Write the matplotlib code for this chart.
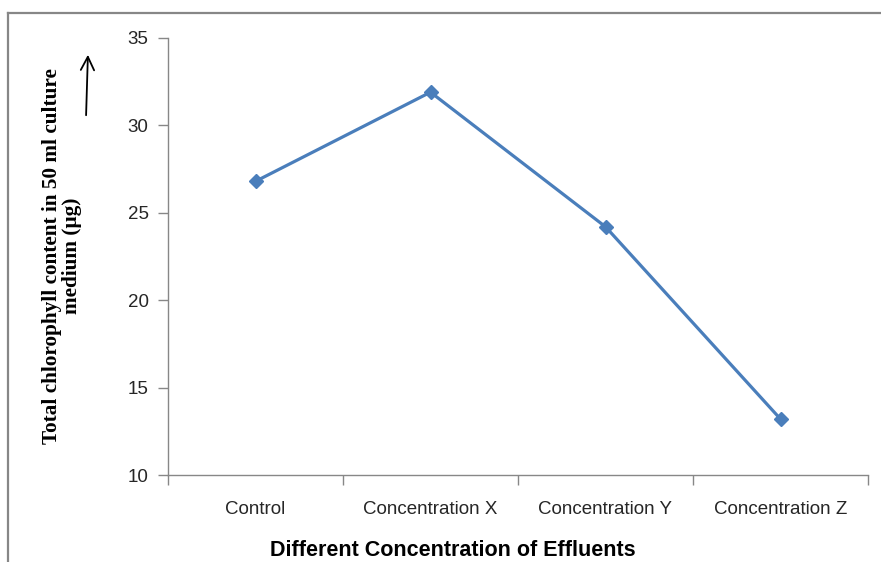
import matplotlib.pyplot as plt
from matplotlib.lines import Line2D
from matplotlib.patches import FancyArrowPatch

categories = ['Control', 'Concentration X', 'Concentration Y', 'Concentration Z']
chlorophyll = [26.8, 31.9, 24.2, 13.2]
y_ticks = [10, 15, 20, 25, 30, 35]

fig = plt.figure(figsize=(8.81, 5.62), dpi=100)
ax = fig.add_axes([168 / 881, 1 - 475 / 562, 700 / 881, 437 / 562])

x = list(range(len(categories)))
ax.plot(x, chlorophyll, color='#4a7ebb', linewidth=2.3, marker='D',
        markersize=7, markerfacecolor='#4a7ebb', markeredgecolor='#4a7ebb')

ax.set_xlim(-0.5, len(categories) - 0.5)
ax.set_ylim(10, 35)
ax.set_yticks(y_ticks)
ax.tick_params(axis='y', length=7, width=1, color='#878787', labelsize=13.5,
               labelcolor='#262626', pad=7)
ax.set_yticklabels([str(v) for v in y_ticks], family='Liberation Sans')

# category labels sit between the boundary tick marks
ax.set_xticks([i - 0.5 for i in range(len(categories) + 1)])
ax.set_xticklabels([])
ax.tick_params(axis='x', direction='out', length=7, width=1, color='#878787')
ax.set_xticks(x, minor=True)
ax.set_xticklabels(categories, minor=True, family='Liberation Sans',
                   fontsize=13.5, color='#262626')
ax.tick_params(axis='x', which='minor', length=0, pad=19)

for s in ['top', 'right']:
    ax.spines[s].set_visible(False)
for s in ['left', 'bottom']:
    ax.spines[s].set_color('#878787')
    ax.spines[s].set_linewidth(1)

ax.set_xlabel('Different Concentration of Effluents', family='Liberation Sans',
              fontweight='bold', fontsize=15.5)
ax.xaxis.set_label_coords((453 - 168) / 700, -(550 - 475) / 437)
ax.xaxis.label.set_va('center')

fig.text(62 / 881, 1 - 256 / 562,
         'Total chlorophyll content in 50 ml culture\nmedium (\u00b5g)',
         rotation=90, ha='center', va='center', family='Liberation Serif',
         fontweight='bold', fontsize=15.3, linespacing=1.0)

# arrow next to the y label
fig.add_artist(FancyArrowPatch(
    (86 / 881, 1 - 118 / 562), (88 / 881, 1 - 52 / 562),
    transform=fig.transFigure, arrowstyle='->', mutation_scale=24,
    color='black', linewidth=1.3))

# page frame lines (top and left)
fig.add_artist(Line2D([8 / 881, 1], [1 - 13 / 562, 1 - 13 / 562],
                      transform=fig.transFigure, color='#878787', linewidth=1.6))
fig.add_artist(Line2D([8 / 881, 8 / 881], [0, 1 - 13 / 562],
                      transform=fig.transFigure, color='#878787', linewidth=1.6))

fig.savefig('out.png', dpi=100)
